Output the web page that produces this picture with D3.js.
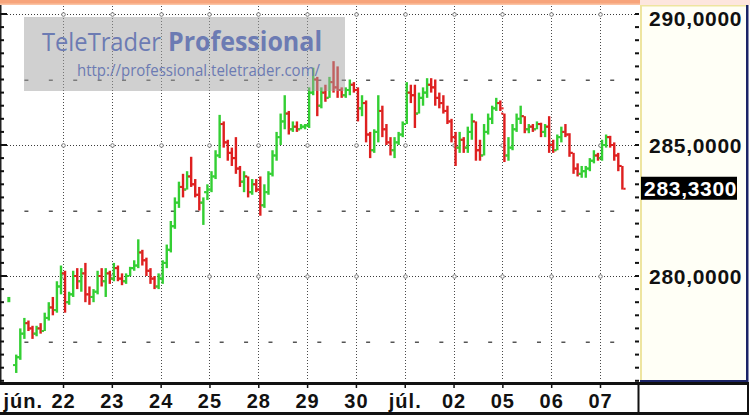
<!DOCTYPE html>
<html><head><meta charset="utf-8">
<script src="https://cdn.jsdelivr.net/npm/d3@7"></script>
<style>html,body{margin:0;padding:0;background:#fff;overflow:hidden}svg{display:block}</style>
</head><body><svg id="c" width="750" height="420"></svg>
<script>
const dayLabels = ["jún.","22","23","24","25","28","29","30","júl.","02","05","06","07"];
const barsPerDay = 12;
const opens = [
276.6,276.9,277.8,278.2,278.0,277.8,278.0,277.9,278.4,278.8,278.7,279.6,
280.1,279.0,279.3,280.0,279.8,280.1,279.3,279.2,279.4,280.0,279.8,280.1,
279.9,280.3,279.9,279.8,280.0,280.3,280.4,280.9,280.6,280.2,279.9,279.6,
279.9,280.5,281.0,281.9,282.8,283.4,283.3,283.8,283.5,283.1,282.8,283.2,
283.3,283.8,284.6,285.8,285.1,284.7,284.5,284.1,283.6,283.8,283.2,283.5,
283.3,282.7,283.2,283.9,284.6,285.3,285.9,286.2,285.6,285.7,285.6,285.7,
285.75,287.0,287.5,286.5,287.0,286.8,287.4,287.2,287.1,286.9,287.1,287.3,
287.1,286.4,286.6,285.4,284.8,285.5,286.3,285.6,285.1,284.8,285.1,285.4,
285.8,287.0,286.9,286.2,286.8,287.0,287.3,287.2,286.8,286.6,286.3,285.9,
285.3,284.9,285.2,284.9,285.5,285.9,284.8,284.6,285.5,286.0,286.4,286.6,
286.2,284.6,284.9,285.6,286.0,286.1,285.6,285.7,285.6,285.8,285.5,285.7,
285.0,284.8,285.3,285.5,285.4,284.7,284.1,283.9,284.0,284.1,284.4,284.6,
284.5,285.0,285.3,285.0,284.6,284.2];
const highs = [
277.0,278.0,278.4,278.3,278.1,278.1,278.2,278.6,279.0,279.2,279.8,280.4,
280.2,279.4,280.2,280.3,280.3,280.5,279.6,279.5,280.2,280.3,280.3,280.2,
280.5,280.4,280.1,280.1,280.35,280.6,281.4,281.0,280.7,280.3,280.0,280.1,
280.6,281.2,282.1,283.0,283.6,283.9,284.0,284.55,283.7,283.4,283.0,283.5,
284.0,284.8,286.15,285.9,285.2,284.9,285.3,284.2,284.0,283.8,283.7,283.7,
283.8,283.5,284.0,284.8,285.5,286.2,286.9,286.3,285.9,285.9,285.8,285.8,
287.2,287.95,287.6,287.2,287.3,287.6,288.2,288.0,287.2,287.2,287.5,287.4,
287.2,286.9,286.7,285.5,285.6,286.9,286.5,285.8,285.3,285.3,285.5,285.9,
287.4,287.3,287.3,287.0,287.2,287.55,287.55,287.5,287.0,286.9,286.5,286.0,
285.5,285.5,285.3,285.7,286.2,285.9,285.2,285.8,286.2,286.5,286.8,286.7,
286.2,285.3,285.8,286.2,286.5,286.1,285.8,285.8,285.9,285.85,285.8,286.1,
285.2,285.4,285.7,285.8,285.45,284.7,284.3,284.2,284.2,284.5,284.8,284.7,
285.2,285.4,285.35,285.1,284.7,284.2];
const lows = [
276.3,276.8,277.6,277.9,277.6,277.7,277.8,277.9,278.3,278.5,278.6,279.3,
278.6,278.9,279.2,279.5,279.4,279.0,278.9,279.0,279.3,279.6,279.2,279.7,
279.8,279.8,279.65,279.7,280.0,280.2,280.3,280.4,280.0,279.7,279.5,279.5,
279.7,280.3,280.9,281.8,282.6,283.0,283.3,283.4,283.0,282.5,281.95,282.9,
283.2,283.7,284.5,284.9,284.4,284.2,283.9,283.4,283.2,283.0,283.1,283.2,
282.3,282.6,283.1,283.8,284.4,285.0,285.6,285.4,285.5,285.5,285.6,285.6,
285.65,286.9,286.1,286.4,286.65,286.8,287.0,286.8,286.8,286.8,286.9,287.0,
285.9,286.1,285.1,284.5,284.7,285.1,285.3,285.0,284.6,284.5,285.0,285.3,
285.8,286.6,285.65,286.2,286.5,286.8,287.0,286.5,286.4,286.2,285.8,285.1,
284.2,284.7,284.7,284.7,285.2,284.4,284.4,284.6,285.4,285.8,286.3,286.3,
284.35,284.4,284.8,285.5,285.8,285.45,285.45,285.5,285.6,285.3,285.3,284.7,
284.7,284.8,285.1,285.3,284.55,283.9,283.8,283.75,283.75,284.0,284.3,284.4,
284.4,284.9,284.9,284.4,284.0,283.3];
const closes = [
276.9,277.8,278.2,278.0,277.8,278.0,277.9,278.4,278.8,278.7,279.6,280.1,
279.0,279.3,280.0,279.8,280.1,279.3,279.2,279.4,280.0,279.8,280.1,279.9,
280.3,279.9,279.8,280.0,280.3,280.4,280.9,280.6,280.2,279.9,279.6,279.9,
280.5,281.0,281.9,282.8,283.4,283.3,283.8,283.5,283.1,282.8,283.2,283.3,
283.8,284.6,285.8,285.1,284.7,284.5,284.1,283.6,283.8,283.2,283.5,283.3,
282.7,283.2,283.9,284.6,285.3,285.9,286.2,285.6,285.7,285.6,285.7,285.75,
287.0,287.5,286.5,287.0,286.8,287.4,287.2,287.1,286.9,287.1,287.3,287.1,
286.4,286.6,285.4,284.8,285.5,286.3,285.6,285.1,284.8,285.1,285.4,285.8,
287.0,286.9,286.2,286.8,287.0,287.3,287.2,286.8,286.6,286.3,285.9,285.3,
284.9,285.2,284.9,285.5,285.9,284.8,284.6,285.5,286.0,286.4,286.6,286.4,
284.6,284.9,285.6,286.0,286.1,285.6,285.7,285.6,285.8,285.5,285.7,285.0,
284.8,285.3,285.5,285.4,284.7,284.1,283.9,284.0,284.1,284.4,284.6,284.5,
285.0,285.3,285.0,284.6,284.2,283.33];
const prevClose = [279.0, 279.2];
const lastPrice = 283.33;
const majorTicks = [280, 285, 290];
const midTicks = [277.5, 282.5, 287.5];

const svg = d3.select("#c");
const x = d3.scaleLinear().domain([0, 12]).range([14.2, 600]);
const y = d3.scaleLinear().domain([276, 290]).range([380.8, 14]);
const loc = d3.formatLocale({decimal: ",", thousands: ".", grouping: [3], currency: ["", ""]});
const fmt = loc.format(".4f");
const GREEN = "#33cf33", RED = "#de1f1f";

// top strip and right panel
svg.append("rect").attr("x",0).attr("y",0).attr("width",640).attr("height",5).attr("fill","#f7a47b");
svg.append("rect").attr("x",0).attr("y",3.5).attr("width",640).attr("height",1.5).attr("fill","#fbc3a4");
svg.append("rect").attr("x",640).attr("y",0).attr("width",110).attr("height",5).attr("fill","#fde6de");
svg.append("rect").attr("x",640).attr("y",5).attr("width",107).attr("height",377).attr("fill","#fffff6");
svg.append("rect").attr("x",640).attr("y",5).attr("width",2).attr("height",377).attr("fill","#eee5a0");
svg.append("rect").attr("x",640).attr("y",5).attr("width",107).attr("height",1.5).attr("fill","#eee5a0");
svg.append("rect").attr("x",746).attr("y",5).attr("width",2.5).attr("height",377).attr("fill","#1b2466");
svg.append("rect").attr("x",640).attr("y",380).attr("width",108).attr("height",2).attr("fill","#1b2466");

// grid
const grid = svg.append("g");
const dayTicks = d3.range(1, 13);
grid.selectAll("line.v").data(dayTicks).join("line")
  .attr("x1", d => Math.round(x(d)) + 0.5).attr("x2", d => Math.round(x(d)) + 0.5)
  .attr("y1", 6).attr("y2", 381)
  .attr("stroke", "#4a4a4a").attr("stroke-width", 1).attr("stroke-dasharray", "1,2");
grid.selectAll("line.h").data(majorTicks).join("line")
  .attr("x1", 4).attr("x2", 638)
  .attr("y1", d => Math.round(y(d)) + 0.5).attr("y2", d => Math.round(y(d)) + 0.5)
  .attr("stroke", "#3a3a3a").attr("stroke-width", 1).attr("stroke-dasharray", "1,2");
const dashPos = d3.range(0.25, 12.6, 0.5).filter(d => x(d) < 634);
midTicks.forEach(v => {
  grid.selectAll(null).data(dashPos).join("rect")
    .attr("x", d => x(d) - 2).attr("y", Math.round(y(v)) - 0.5)
    .attr("width", 4).attr("height", 1.5).attr("fill", "#555");
});
majorTicks.forEach(v => {
  grid.selectAll(null).data(dayTicks).join("circle")
    .attr("cx", d => Math.round(x(d)) + 0.5).attr("cy", Math.round(y(v)) + 0.5)
    .attr("r", 1.8).attr("fill", "#fff").attr("stroke", "#777").attr("stroke-width", 1);
});

// minor ticks left and right
const minor = d3.range(276, 290.01, 0.5);
svg.append("rect").attr("x",0).attr("y",5).attr("width",1.5).attr("height",377).attr("fill","#222");
svg.selectAll("rect.lt").data(minor).join("rect")
  .attr("x", 0).attr("y", d => y(d) - 1).attr("width", d => d % 5 === 0 ? 7 : 4).attr("height", 2).attr("fill", "#111");
svg.selectAll("rect.rt").data(minor).join("rect")
  .attr("x", 635).attr("y", d => y(d) - 1).attr("width", 4).attr("height", 2).attr("fill", "#111");

// bars
const defs = svg.append("defs");
defs.append("clipPath").attr("id", "plotclip").append("rect")
  .attr("x", 2).attr("y", 5).attr("width", 636).attr("height", 376);
const bars = d3.range(closes.length).map(i => ({
  o: opens[i], h: highs[i], l: lows[i], c: closes[i],
  d: Math.floor(i / barsPerDay) + ((i % barsPerDay) + 0.5) / barsPerDay
}));
const bg = svg.append("g").attr("clip-path", "url(#plotclip)");
bg.append("rect").attr("x", x(-0.11) - 1.5).attr("y", y(prevClose[1]))
  .attr("width", 3).attr("height", y(prevClose[0]) - y(prevClose[1])).attr("fill", GREEN);
const bar = bg.selectAll("g.bar").data(bars).join("g")
  .attr("fill", b => b.c >= b.o ? GREEN : RED);
bar.append("rect").attr("x", b => x(b.d) - 1.2).attr("y", b => y(b.h))
  .attr("width", 2.4).attr("height", b => Math.max(1, y(b.l) - y(b.h)));
bar.append("rect").attr("x", b => x(b.d) - 3.2).attr("y", b => y(b.o) - 1).attr("width", 2.2).attr("height", 2);
bar.append("rect").attr("x", b => x(b.d) + 1).attr("y", b => y(b.c) - 1).attr("width", 2.2).attr("height", 2);

// watermark
svg.append("rect").attr("x", 24).attr("y", 17).attr("width", 321).attr("height", 74)
  .attr("fill", "#a2a2a2").attr("opacity", 0.5);
const wmFont = "'Open Sans','Noto Sans',sans-serif";
svg.append("text").attr("x", 42).attr("y", 51).attr("font-family", wmFont).attr("font-size", 26)
  .attr("fill", "#6c7bb3").attr("textLength", 119).attr("lengthAdjust", "spacingAndGlyphs").text("TeleTrader");
svg.append("text").attr("x", 168).attr("y", 51).attr("font-family", wmFont).attr("font-size", 26)
  .attr("font-weight", "bold").attr("fill", "#6c7bb3").attr("textLength", 154).attr("lengthAdjust", "spacingAndGlyphs").text("Professional");
svg.append("text").attr("x", 77).attr("y", 76).attr("font-family", wmFont).attr("font-size", 16)
  .attr("fill", "#6c7bb3").attr("textLength", 243).attr("lengthAdjust", "spacingAndGlyphs").text("http://professional.teletrader.com/");

// right axis labels
const yAxis = d3.axisRight(y).tickValues(majorTicks).tickFormat(fmt).tickSize(0).tickPadding(0);
const ya = svg.append("g").attr("transform", "translate(649,0)").call(yAxis);
ya.select(".domain").remove();
ya.selectAll("text").attr("font-family", "'Liberation Sans',Arial,sans-serif").attr("font-size", 21)
  .attr("font-weight", "bold").attr("fill", "#111").attr("letter-spacing", 0.7)
  .attr("dy", d => d === 290 ? "0.55em" : "0.36em");

// last price box
svg.append("rect").attr("x", 641).attr("y", y(lastPrice) - 12).attr("width", 96).attr("height", 23).attr("fill", "#000");
svg.append("text").attr("x", 644).attr("y", y(lastPrice)).attr("dy", "0.36em")
  .attr("font-family", "'Liberation Sans',Arial,sans-serif").attr("font-size", 21).attr("font-weight", "bold")
  .attr("letter-spacing", 0.7).attr("fill", "#fff").text(fmt(lastPrice));

// bottom axis band
svg.append("rect").attr("x", 0).attr("y", 382).attr("width", 749).attr("height", 3).attr("fill", "#111");
svg.append("rect").attr("x", 0).attr("y", 412).attr("width", 749).attr("height", 3).attr("fill", "#111");
svg.append("rect").attr("x", 637.5).attr("y", 382).attr("width", 2).attr("height", 33).attr("fill", "#111");
svg.append("rect").attr("x", 747).attr("y", 382).attr("width", 2).attr("height", 33).attr("fill", "#111");
const xAxis = d3.axisBottom(x).tickValues(d3.range(0, 13)).tickFormat(i => dayLabels[i]).tickSize(3).tickPadding(0);
const xa = svg.append("g").attr("transform", "translate(0,385)").call(xAxis);
xa.select(".domain").remove();
xa.selectAll(".tick line").attr("stroke", "#111").attr("stroke-width", 1.5)
  .attr("opacity", d => d === 0 ? 0 : 1);
xa.selectAll("text").attr("font-family", "'Liberation Sans',Arial,sans-serif").attr("font-size", 20)
  .attr("font-weight", "bold").attr("fill", "#111").attr("letter-spacing", 1)
  .attr("y", 23).attr("dy", 0)
  .each(function(d) {
    const t = d3.select(this);
    const w = this.getComputedTextLength();
    if (x(d) - w / 2 < 3) { t.attr("text-anchor", "start").attr("x", 3 - x(d)); }
  });
</script></body></html>
